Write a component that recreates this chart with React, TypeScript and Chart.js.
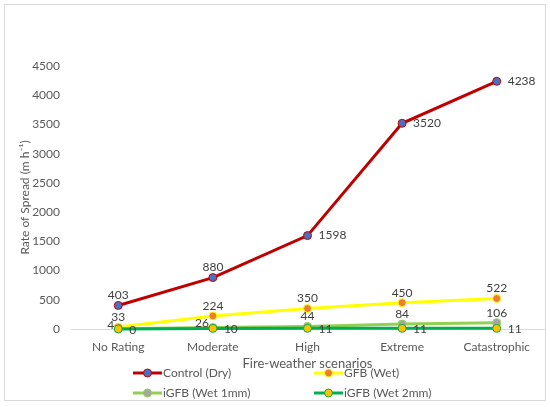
import React, { useEffect, useRef } from "react";
import { Chart, registerables } from "chart.js";

Chart.register(...registerables);

const categories = ["No Rating", "Moderate", "High", "Extreme", "Catastrophic"];
const controlDry = [403, 880, 1598, 3520, 4238];
const gfbWet = [33, 224, 350, 450, 522];
const igfbWet1mm = [4, 26, 44, 84, 106];
const igfbWet2mm = [0, 10, 11, 11, 11];
const seriesNames = ["Control (Dry)", "GFB (Wet)", "iGFB (Wet 1mm)", "iGFB (Wet 2mm)"];
const yMin = 0;
const yMax = 4500;
const yStep = 500;

const FONT = "Lato, 'Liberation Sans', sans-serif";
const TEXT = "#595959";

const lineColors = ["#C00000", "#FFFF00", "#92D050", "#00B050"];
const markerColors = ["#4472C4", "#ED7D31", "#A5A5A5", "#FFC000"];
const labelPositions = [
  ["top", "top", "right", "right", "right"],
  ["top", "top", "top", "top", "top"],
  ["left", "left", "top", "top", "top"],
  ["right", "right", "right", "right", "right"],
];

const valueLabelPlugin = {
  id: "valueLabels",
  afterDatasetsDraw(chart: any) {
    const ctx = chart.ctx;
    ctx.save();
    ctx.font = `12px ${FONT}`;
    ctx.fillStyle = "#404040";
    chart.data.datasets.forEach((ds: any, di: number) => {
      const meta = chart.getDatasetMeta(di);
      meta.data.forEach((pt: any, i: number) => {
        const p = labelPositions[di][i];
        let x = pt.x;
        let y = pt.y;
        ctx.textBaseline = "middle";
        if (p === "top") {
          ctx.textAlign = "center";
          y -= 10;
        } else if (p === "right") {
          ctx.textAlign = "left";
          x += 11;
          if (di === 3) y += 1;
        } else {
          ctx.textAlign = "right";
          x -= 4;
          y -= 4;
        }
        ctx.fillText(String(ds.data[i]), x, y);
      });
    });
    ctx.restore();
  },
};

const legendPlugin = {
  id: "gridLegend",
  afterDraw(chart: any) {
    const ctx = chart.ctx;
    const cols = [133, 314];
    const rows = [373, 393];
    ctx.save();
    ctx.font = `12px ${FONT}`;
    ctx.textBaseline = "middle";
    ctx.textAlign = "left";
    seriesNames.forEach((name, i) => {
      const x = cols[i % 2];
      const y = rows[Math.floor(i / 2)];
      ctx.strokeStyle = lineColors[i];
      ctx.lineWidth = 3;
      ctx.beginPath();
      ctx.moveTo(x, y);
      ctx.lineTo(x + 29, y);
      ctx.stroke();
      ctx.beginPath();
      ctx.arc(x + 14.5, y, 4, 0, Math.PI * 2);
      ctx.fillStyle = markerColors[i];
      ctx.fill();
      ctx.lineWidth = 1;
      ctx.stroke();
      ctx.fillStyle = TEXT;
      ctx.fillText(name, x + 30, y);
    });
    ctx.restore();
  },
};

export default function App() {
  const ref = useRef<HTMLCanvasElement>(null);
  useEffect(() => {
    document.body.style.margin = "0";
    const series = [controlDry, gfbWet, igfbWet1mm, igfbWet2mm];
    const orders = [3, 2, 1, 0];
    const chart = new Chart(ref.current as HTMLCanvasElement, {
      type: "line",
      data: {
        labels: categories,
        datasets: series.map((d, i) => ({
          label: seriesNames[i],
          data: d,
          borderColor: lineColors[i],
          backgroundColor: markerColors[i],
          borderWidth: 3,
          pointRadius: 4,
          pointBorderWidth: 1,
          pointBackgroundColor: markerColors[i],
          pointBorderColor: lineColors[i],
          tension: 0,
          clip: false as any,
          order: orders[i],
        })),
      },
      options: {
        responsive: false,
        animation: false,
        layout: { padding: { left: 0, right: 6, top: 66, bottom: 31 } },
        plugins: {
          legend: { display: false },
          tooltip: { enabled: false },
        },
        scales: {
          x: {
            type: "category",
            offset: true,
            grid: { display: false },
            border: { display: true, color: "#D9D9D9", width: 1 },
            ticks: { color: TEXT, font: { family: FONT, size: 12 }, padding: 3 },
            title: {
              display: true,
              text: "Fire-weather scenarios",
              color: TEXT,
              font: { family: FONT, size: 13 },
              padding: { top: 4, bottom: 4 },
            },
            afterFit: (s: any) => {
              s.height = 47;
            },
          },
          y: {
            min: yMin,
            max: yMax,
            grid: { display: false, drawTicks: false },
            border: { display: false },
            ticks: {
              stepSize: yStep,
              color: TEXT,
              font: { family: FONT, size: 12 },
              padding: 11,
              callback: (v: any) => String(v),
            },
            title: {
              display: true,
              text: "Rate of Spread (m h⁻¹)",
              color: TEXT,
              font: { family: FONT, size: 12 },
              padding: { top: 18, bottom: 0 },
            },
            afterFit: (s: any) => {
              s.width = 71;
            },
          },
        },
      },
      plugins: [valueLabelPlugin, legendPlugin],
    });
    return () => chart.destroy();
  }, []);
  return (
    <div style={{ position: "relative", width: 550, height: 407, background: "#fff" }}>
      <canvas ref={ref} width={550} height={407} style={{ display: "block" }} />
      <div
        style={{
          position: "absolute",
          left: 4,
          top: 4,
          width: 542,
          height: 397,
          border: "1px solid #D9D9D9",
          boxSizing: "border-box",
          pointerEvents: "none",
        }}
      />
    </div>
  );
}
